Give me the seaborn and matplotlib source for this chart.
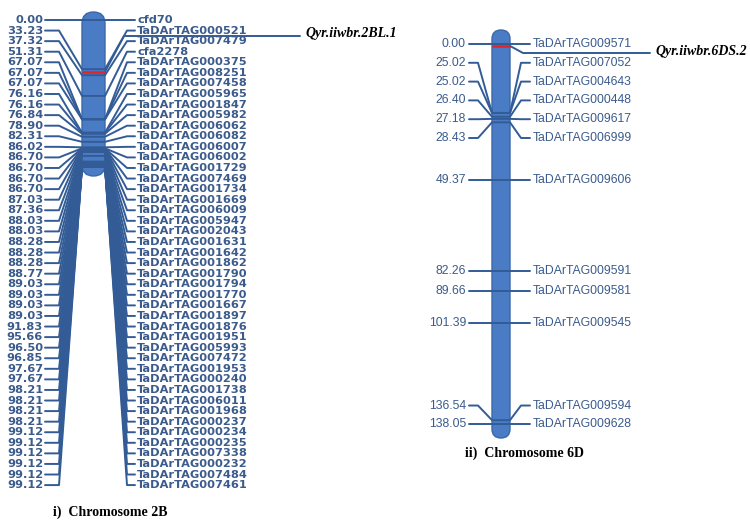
import numpy as np
import pandas as pd
import seaborn as sns
import matplotlib.pyplot as plt
from matplotlib.patches import FancyBboxPatch

# ---------------- data ----------------
chr2b_cm = [0.00, 33.23, 37.32, 51.31, 67.07, 67.07, 67.07, 76.16, 76.16, 76.84,
            78.90, 82.31, 86.02, 86.70, 86.70, 86.70, 86.70, 87.03, 87.36, 88.03,
            88.03, 88.28, 88.28, 88.28, 88.77, 89.03, 89.03, 89.03, 89.03, 91.83,
            95.66, 96.50, 96.85, 97.67, 97.67, 98.21, 98.21, 98.21, 98.21, 99.12,
            99.12, 99.12, 99.12, 99.12, 99.12]
chr2b_markers = ["cfd70", "TaDArTAG000521", "TaDArTAG007479", "cfa2278",
                 "TaDArTAG000375", "TaDArTAG008251", "TaDArTAG007458", "TaDArTAG005965",
                 "TaDArTAG001847", "TaDArTAG005982", "TaDArTAG006062", "TaDArTAG006082",
                 "TaDArTAG006007", "TaDArTAG006002", "TaDArTAG001729", "TaDArTAG007469",
                 "TaDArTAG001734", "TaDArTAG001669", "TaDArTAG006009", "TaDArTAG005947",
                 "TaDArTAG002043", "TaDArTAG001631", "TaDArTAG001642", "TaDArTAG001862",
                 "TaDArTAG001790", "TaDArTAG001794", "TaDArTAG001770", "TaDArTAG001667",
                 "TaDArTAG001897", "TaDArTAG001876", "TaDArTAG001951", "TaDArTAG005993",
                 "TaDArTAG007472", "TaDArTAG001953", "TaDArTAG000240", "TaDArTAG001738",
                 "TaDArTAG006011", "TaDArTAG001968", "TaDArTAG000237", "TaDArTAG000234",
                 "TaDArTAG000235", "TaDArTAG007338", "TaDArTAG000232", "TaDArTAG007484",
                 "TaDArTAG007461"]
qtl_2b_name = "Qyr.iiwbr.2BL.1"
qtl_2b_cm = 35.1

chr6d_cm = [0.00, 25.02, 25.02, 26.40, 27.18, 28.43, 49.37, 82.26, 89.66, 101.39,
            136.54, 138.05]
chr6d_markers = ["TaDArTAG009571", "TaDArTAG007052", "TaDArTAG004643", "TaDArTAG000448",
                 "TaDArTAG009617", "TaDArTAG006999", "TaDArTAG009606", "TaDArTAG009591",
                 "TaDArTAG009581", "TaDArTAG009545", "TaDArTAG009594", "TaDArTAG009628"]
qtl_6d_name = "Qyr.iiwbr.6DS.2"
qtl_6d_cm = 0.7

captions = ["i)  Chromosome 2B", "ii)  Chromosome 6D"]

# ---------------- style ----------------
sns.set_theme(style="white")
plt.rcParams["font.family"] = ["DejaVu Sans"]

BODY = "#4a7cc5"
BODY_EDGE = "#3a67aa"
LINE = "#335c96"
TEXT = "#3b5b8c"
QTL_RED = "#e3242b"

fig = plt.figure(figsize=(7.5, 5.21), dpi=100)
ax = fig.add_axes([0, 0, 1, 1])
ax.set_xlim(0, 750)
ax.set_ylim(521, 0)
ax.axis("off")


def draw_body(x0, x1, y0, y1):
    w = x1 - x0
    ax.add_patch(FancyBboxPatch((x0, y0), w, y1 - y0,
                                boxstyle=f"round,pad=0,rounding_size={w / 2}",
                                facecolor=BODY, edgecolor=BODY_EDGE, lw=1.0, zorder=1))


def connectors(body_y, rows, xs):
    """Polyline per marker: left tick -> body -> across -> right tick."""
    lx0, lx1, bx0, bx1, rx0, rx1 = xs
    recs = []
    for i, (by, ry) in enumerate(zip(body_y, rows)):
        for k, (x, y) in enumerate([(lx0, ry), (lx1, ry), (bx0, by),
                                    (bx1, by), (rx0, ry), (rx1, ry)]):
            recs.append({"marker": i, "order": k, "x": x, "y": y})
    return pd.DataFrame(recs)


# ---------------- chromosome 2B ----------------
c2 = dict(top=20.0, scale=1.48, bx0=82, bx1=105, gap=10.57)
y2 = c2["top"] + np.asarray(chr2b_cm) * c2["scale"]
rows2 = y2[0] + c2["gap"] * np.arange(len(y2))
draw_body(c2["bx0"], c2["bx1"], 12, 176)
df2 = connectors(y2, rows2, (45, 59, c2["bx0"], c2["bx1"], 127, 135))
sns.lineplot(data=df2, x="x", y="y", units="marker", estimator=None, sort=False,
             color=LINE, lw=1.4, ax=ax, zorder=2)
for cm, name, ry in zip(chr2b_cm, chr2b_markers, rows2):
    ax.text(43, ry, f"{cm:.2f}", ha="right", va="center", fontsize=8.2,
            fontweight="bold", color=TEXT)
    ax.text(137, ry, name, ha="left", va="center", fontsize=8.2,
            fontweight="bold", color=TEXT)
q2 = c2["top"] + qtl_2b_cm * c2["scale"]
ax.plot([c2["bx0"], c2["bx1"]], [q2, q2], color=QTL_RED, lw=1.8, zorder=3,
        solid_capstyle="butt")
ax.plot([c2["bx1"], 124, 300], [q2, 36, 36], color=LINE, lw=1.4, zorder=2)
ax.text(305, 34, qtl_2b_name, ha="left", va="center", fontsize=10,
        family="Liberation Serif", fontweight="bold", style="italic", color="black")
ax.text(53, 512, captions[0], ha="left", va="center", fontsize=10,
        family="Liberation Serif", fontweight="bold", color="black")

# ---------------- chromosome 6D ----------------
c6 = dict(top=44.0, scale=2.755, bx0=492, bx1=510, gap=18.8)
y6 = c6["top"] + np.asarray(chr6d_cm) * c6["scale"]
rows6 = y6.copy()
# stack crowded labels: upper cluster hangs below the first marker,
# lower pair sits above the last marker
rows6[1:6] = rows6[0] + c6["gap"] * np.arange(1, 6)
rows6[10] = rows6[11] - c6["gap"]
draw_body(c6["bx0"], c6["bx1"], 30, 438)
df6 = connectors(y6, rows6, (469, 478, c6["bx0"], c6["bx1"], 521, 530))
sns.lineplot(data=df6, x="x", y="y", units="marker", estimator=None, sort=False,
             color=LINE, lw=1.4, ax=ax, zorder=2)
sans6 = ["Liberation Sans", "DejaVu Sans"]
for cm, name, ry in zip(chr6d_cm, chr6d_markers, rows6):
    ax.text(466, ry, f"{cm:.2f}", ha="right", va="center", fontsize=8.8,
            family=sans6, color=TEXT)
    ax.text(533, ry, name, ha="left", va="center", fontsize=8.8,
            family=sans6, color=TEXT)
q6 = c6["top"] + qtl_6d_cm * c6["scale"]
ax.plot([c6["bx0"], c6["bx1"]], [q6, q6], color=QTL_RED, lw=1.8, zorder=3,
        solid_capstyle="butt")
ax.plot([c6["bx1"], 523, 650], [q6, 53, 53], color=LINE, lw=1.4, zorder=2)
ax.text(655, 52, qtl_6d_name, ha="left", va="center", fontsize=10,
        family="Liberation Serif", fontweight="bold", style="italic", color="black")
ax.text(465, 453, captions[1], ha="left", va="center", fontsize=10,
        family="Liberation Serif", fontweight="bold", color="black")

if ax.get_legend() is not None:
    ax.get_legend().remove()

fig.savefig("out.png", dpi=100)
